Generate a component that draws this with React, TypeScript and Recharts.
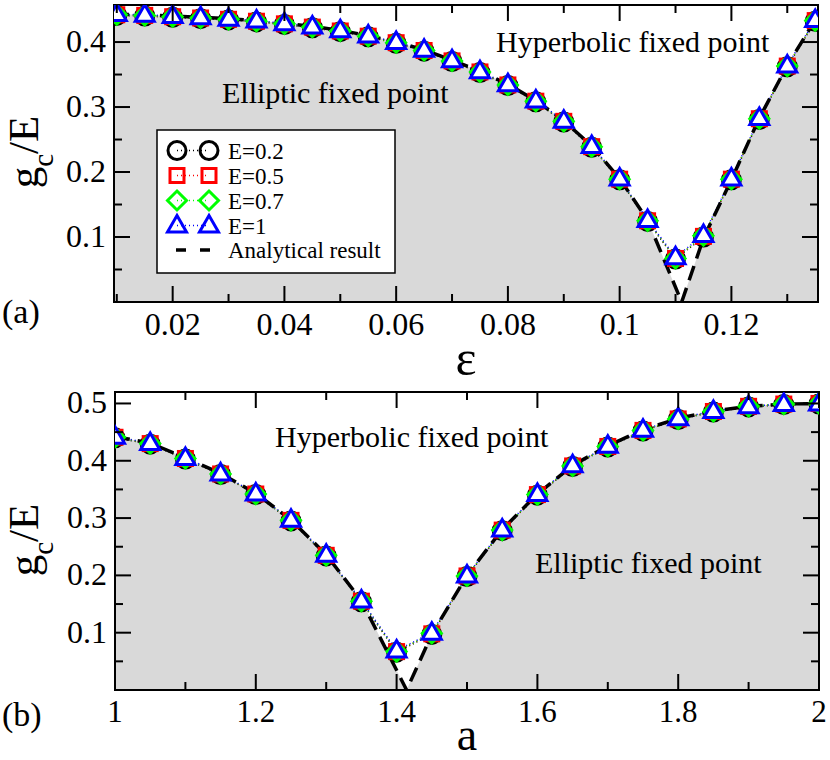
import React from 'react';
import { ComposedChart, Line, Area, XAxis, YAxis, ReferenceArea } from 'recharts';

// ---------- Panel (a): g_c/E versus epsilon ----------
const epsA = [0.01, 0.015, 0.02, 0.025, 0.03, 0.035, 0.04, 0.045, 0.05, 0.055, 0.06, 0.065, 0.07, 0.075, 0.08, 0.085, 0.09, 0.095, 0.1, 0.105, 0.11, 0.115, 0.12, 0.125, 0.13, 0.135];
const gA_E02 = [0.441, 0.44, 0.438, 0.436, 0.434, 0.431, 0.427, 0.422, 0.416, 0.408, 0.398, 0.386, 0.37, 0.353, 0.333, 0.308, 0.277, 0.238, 0.188, 0.124, 0.066, 0.1, 0.188, 0.281, 0.362, 0.432];
const gA_E05 = [0.442, 0.441, 0.439, 0.437, 0.435, 0.432, 0.428, 0.423, 0.417, 0.409, 0.399, 0.387, 0.371, 0.354, 0.334, 0.309, 0.278, 0.239, 0.189, 0.125, 0.067, 0.101, 0.189, 0.282, 0.363, 0.433];
const gA_E07 = [0.442, 0.441, 0.439, 0.437, 0.435, 0.432, 0.428, 0.423, 0.417, 0.409, 0.399, 0.387, 0.371, 0.354, 0.334, 0.309, 0.278, 0.239, 0.189, 0.125, 0.067, 0.102, 0.189, 0.282, 0.363, 0.433];
const gA_E1 = [0.443, 0.442, 0.44, 0.438, 0.436, 0.433, 0.429, 0.424, 0.418, 0.41, 0.4, 0.388, 0.372, 0.355, 0.335, 0.31, 0.279, 0.24, 0.19, 0.126, 0.069, 0.103, 0.19, 0.283, 0.364, 0.434];
const epsAnalyticA = [0.0095, 0.01, 0.015, 0.02, 0.025, 0.03, 0.035, 0.04, 0.045, 0.05, 0.055, 0.06, 0.065, 0.07, 0.075, 0.08, 0.085, 0.09, 0.095, 0.1, 0.105, 0.1111, 0.115, 0.12, 0.125, 0.13, 0.135, 0.1355];
const gAnalyticA = [0.444, 0.443, 0.442, 0.44, 0.438, 0.436, 0.433, 0.429, 0.424, 0.418, 0.41, 0.4, 0.388, 0.372, 0.355, 0.335, 0.31, 0.279, 0.24, 0.19, 0.126, 0, 0.098, 0.188, 0.283, 0.364, 0.434, 0.445];
const xTicksA = [0.01, 0.02, 0.03, 0.04, 0.05, 0.06, 0.07, 0.08, 0.09, 0.1, 0.11, 0.12, 0.13];
const xMajorA = [0.02, 0.04, 0.06, 0.08, 0.1, 0.12];
const yTicksA = [0.05, 0.1, 0.15, 0.2, 0.25, 0.3, 0.35, 0.4];
const yMajorA = [0.1, 0.2, 0.3, 0.4];
const xDomainA = [0.0095, 0.1355];
const yDomainA = [0, 0.457];

// ---------- Panel (b): g_c/E versus a ----------
const aB = [1, 1.05, 1.1, 1.15, 1.2, 1.25, 1.3, 1.35, 1.4, 1.45, 1.5, 1.55, 1.6, 1.65, 1.7, 1.75, 1.8, 1.85, 1.9, 1.95, 2];
const gB_E02 = [0.44, 0.429, 0.403, 0.376, 0.341, 0.295, 0.234, 0.154, 0.066, 0.097, 0.198, 0.278, 0.34, 0.39, 0.424, 0.452, 0.472, 0.485, 0.494, 0.498, 0.499];
const gB_E05 = [0.441, 0.43, 0.404, 0.377, 0.342, 0.296, 0.235, 0.155, 0.067, 0.098, 0.199, 0.279, 0.341, 0.391, 0.425, 0.453, 0.473, 0.486, 0.495, 0.499, 0.5];
const gB_E07 = [0.441, 0.43, 0.404, 0.377, 0.342, 0.296, 0.235, 0.155, 0.067, 0.099, 0.199, 0.279, 0.341, 0.391, 0.425, 0.453, 0.473, 0.486, 0.495, 0.499, 0.5];
const gB_E1 = [0.442, 0.431, 0.405, 0.378, 0.343, 0.297, 0.236, 0.156, 0.069, 0.1, 0.2, 0.28, 0.342, 0.392, 0.426, 0.454, 0.474, 0.487, 0.495, 0.499, 0.5];
const aAnalyticB = [1, 1.05, 1.1, 1.15, 1.2, 1.25, 1.3, 1.35, 1.4142, 1.45, 1.5, 1.55, 1.6, 1.65, 1.7, 1.75, 1.8, 1.85, 1.9, 1.95, 2];
const gAnalyticB = [0.442, 0.431, 0.405, 0.378, 0.343, 0.297, 0.236, 0.156, 0, 0.097, 0.2, 0.28, 0.342, 0.392, 0.426, 0.454, 0.474, 0.487, 0.495, 0.499, 0.5];
const xTicksB = [1, 1.1, 1.2, 1.3, 1.4, 1.5, 1.6, 1.7, 1.8, 1.9, 2];
const xMajorB = [1, 1.2, 1.4, 1.6, 1.8, 2];
const yTicksB = [0.05, 0.1, 0.15, 0.2, 0.25, 0.3, 0.35, 0.4, 0.45, 0.5];
const yMajorB = [0.1, 0.2, 0.3, 0.4, 0.5];
const xDomainB = [1, 2];
const yDomainB = [0, 0.52];

const seriesLabels = ['E=0.2', 'E=0.5', 'E=0.7', 'E=1'];
const analyticLabel = 'Analytical result';

const FONT = '"Liberation Serif", "Times New Roman", serif';
const GRAY = '#d9d9d9';

const zip = (xs: number[], ys: number[]) => xs.map((x, i) => ({ x, y: ys[i] }));
const isMajor = (v: number, majors: number[]) => majors.some((m) => Math.abs(m - v) < 1e-9);

type Kind = 'circle' | 'square' | 'diamond' | 'triangle';
const COLORS: Record<Kind, string> = { circle: '#000000', square: '#ff0000', diamond: '#00ff00', triangle: '#0000ff' };

function markerShape(kind: Kind, cx: number, cy: number, inLegend: boolean, key?: any) {
  const c = COLORS[kind];
  if (kind === 'circle') return <circle key={key} cx={cx} cy={cy} r={9} fill="none" stroke={c} strokeWidth={3} />;
  if (kind === 'square') return <rect key={key} x={cx - 7} y={cy - 7} width={14} height={14} fill={inLegend ? 'none' : c} stroke={c} strokeWidth={3} />;
  if (kind === 'diamond') return <polygon key={key} points={`${cx},${cy - 9.5} ${cx + 9.5},${cy} ${cx},${cy + 9.5} ${cx - 9.5},${cy}`} fill="none" stroke={c} strokeWidth={3} />;
  return <polygon key={key} points={`${cx},${cy - 10} ${cx + 9.5},${cy + 6.5} ${cx - 9.5},${cy + 6.5}`} fill={inLegend ? 'none' : '#ffffff'} stroke={c} strokeWidth={3} />;
}

const dotFor = (kind: Kind) => (p: any) => {
  if (p.cx == null || p.cy == null) return <g key={p.index} />;
  return markerShape(kind, p.cx, p.cy, false, p.index);
};

function XTick(props: any) {
  const { x, payload, top, bottom, majors, labelY, fontSize } = props;
  const v = payload.value;
  const major = isMajor(v, majors);
  const len = major ? 16 : 8;
  return (
    <g>
      <line x1={x} y1={bottom} x2={x} y2={bottom - len} stroke="#000" strokeWidth={2} />
      <line x1={x} y1={top} x2={x} y2={top + len} stroke="#000" strokeWidth={2} />
      {major && (
        <text x={x} y={labelY} textAnchor="middle" fontSize={fontSize} fontFamily={FONT} fill="#000">
          {String(v)}
        </text>
      )}
    </g>
  );
}

function YTick(props: any) {
  const { y, payload, left, right, majors, fontSize } = props;
  const v = payload.value;
  const major = isMajor(v, majors);
  const len = major ? 16 : 8;
  return (
    <g>
      <line x1={left} y1={y} x2={left + len} y2={y} stroke="#000" strokeWidth={2} />
      <line x1={right} y1={y} x2={right - len} y2={y} stroke="#000" strokeWidth={2} />
      {major && (
        <text x={left - 8} y={y + 10} textAnchor="end" fontSize={fontSize} fontFamily={FONT} fill="#000">
          {String(v)}
        </text>
      )}
    </g>
  );
}

type PanelProps = {
  xs: number[];
  series: number[][];
  axs: number[];
  ag: number[];
  xTicks: number[];
  xMajor: number[];
  yTicks: number[];
  yMajor: number[];
  xDomain: number[];
  yDomain: number[];
  left: number;
  right: number;
  top: number;
  bottom: number;
  xLabelY: number;
  xFont: number;
};

function Panel(p: PanelProps) {
  const W = 830;
  const H = 380;
  const kinds: Kind[] = ['circle', 'square', 'diamond', 'triangle'];
  const analytic = zip(p.axs, p.ag);
  const xAxisH = 40;
  return (
    <ComposedChart
      width={W}
      height={H}
      margin={{ top: p.top, right: W - p.right, left: 0, bottom: H - p.bottom - xAxisH }}
    >
      <XAxis
        type="number"
        dataKey="x"
        domain={p.xDomain}
        allowDataOverflow
        ticks={p.xTicks}
        interval={0}
        height={xAxisH}
        axisLine={false}
        tickLine={false}
        tick={(tp: any) => (
          <XTick {...tp} top={p.top} bottom={p.bottom} majors={p.xMajor} labelY={p.xLabelY} fontSize={p.xFont} />
        )}
      />
      <YAxis
        type="number"
        domain={p.yDomain}
        allowDataOverflow
        ticks={p.yTicks}
        interval={0}
        width={p.left}
        axisLine={false}
        tickLine={false}
        tick={(tp: any) => <YTick {...tp} left={p.left} right={p.right} majors={p.yMajor} fontSize={32} />}
      />
      <Area
        data={analytic}
        dataKey="y"
        type="linear"
        stroke="none"
        fill={GRAY}
        fillOpacity={1}
        baseValue={0}
        isAnimationActive={false}
        dot={false}
        activeDot={false}
      />
      {p.series.map((ys, i) => (
        <Line
          key={seriesLabels[i]}
          data={zip(p.xs, ys)}
          dataKey="y"
          name={seriesLabels[i]}
          type="linear"
          stroke={COLORS[kinds[i]]}
          strokeWidth={1.5}
          strokeDasharray="1 3"
          dot={dotFor(kinds[i])}
          activeDot={false}
          isAnimationActive={false}
        />
      ))}
      <Line
        data={analytic}
        dataKey="y"
        name={analyticLabel}
        type="linear"
        stroke="#000"
        strokeWidth={3.5}
        strokeDasharray="15 8"
        dot={false}
        activeDot={false}
        isAnimationActive={false}
      />
      <ReferenceArea
        x1={p.xDomain[0]}
        x2={p.xDomain[1]}
        y1={p.yDomain[0]}
        y2={p.yDomain[1]}
        fill="none"
        fillOpacity={0}
        stroke="#000"
        strokeWidth={2}
        ifOverflow="visible"
      />
    </ComposedChart>
  );
}

function YLabel({ x, cy }: { x: number; cy: number }) {
  return (
    <text
      transform={`translate(${x},${cy}) rotate(-90)`}
      textAnchor="middle"
      fontFamily={FONT}
      fontSize={43}
      fill="#000"
    >
      <tspan>g</tspan>
      <tspan fontSize={29} dy={15}>c</tspan>
      <tspan dy={-15}>/E</tspan>
    </text>
  );
}

function LegendBox() {
  const x0 = 157;
  const y0 = 130;
  const rows = [150.5, 175.5, 200.5, 225.5];
  const kinds: Kind[] = ['circle', 'square', 'diamond', 'triangle'];
  return (
    <g>
      <rect x={x0} y={y0} width={238} height={143} fill="#fff" stroke="#000" strokeWidth={1.5} />
      {rows.map((ry, i) => (
        <g key={i}>
          <line x1={177} y1={ry} x2={209} y2={ry} stroke={COLORS[kinds[i]]} strokeWidth={1.5} strokeDasharray="1 3" />
          {markerShape(kinds[i], 177, ry, true)}
          {markerShape(kinds[i], 209, ry, true)}
          <text x={228} y={ry + 8} fontFamily={FONT} fontSize={23} fill="#000">
            {seriesLabels[i]}
          </text>
        </g>
      ))}
      <line x1={176} y1={250} x2={210} y2={250} stroke="#000" strokeWidth={3.5} strokeDasharray="10 14" />
      <text x={228} y={258} fontFamily={FONT} fontSize={23} fill="#000">
        {analyticLabel}
      </text>
    </g>
  );
}

export default function App() {
  return (
    <div style={{ position: 'absolute', left: 0, top: 0, width: 830, height: 760, background: '#fff' }}>
      <div style={{ position: 'absolute', left: 0, top: 0 }}>
        <Panel
          xs={epsA}
          series={[gA_E02, gA_E05, gA_E07, gA_E1]}
          axs={epsAnalyticA}
          ag={gAnalyticA}
          xTicks={xTicksA}
          xMajor={xMajorA}
          yTicks={yTicksA}
          yMajor={yMajorA}
          xDomain={xDomainA}
          yDomain={yDomainA}
          left={114}
          right={818}
          top={5}
          bottom={302}
          xLabelY={335}
          xFont={32}
        />
      </div>
      <div style={{ position: 'absolute', left: 0, top: 380 }}>
        <Panel
          xs={aB}
          series={[gB_E02, gB_E05, gB_E07, gB_E1]}
          axs={aAnalyticB}
          ag={gAnalyticB}
          xTicks={xTicksB}
          xMajor={xMajorB}
          yTicks={yTicksB}
          yMajor={yMajorB}
          xDomain={xDomainB}
          yDomain={yDomainB}
          left={115}
          right={819}
          top={12}
          bottom={310}
          xLabelY={342}
          xFont={31}
        />
      </div>
      <svg
        width={830}
        height={760}
        style={{ position: 'absolute', left: 0, top: 0, pointerEvents: 'none' }}
      >
        <text x={496} y={52} fontFamily={FONT} fontSize={30} fill="#000">Hyperbolic fixed point</text>
        <text x={222} y={103} fontFamily={FONT} fontSize={30} fill="#000">Elliptic fixed point</text>
        <text x={275} y={447} fontFamily={FONT} fontSize={30} fill="#000">Hyperbolic fixed point</text>
        <text x={535} y={573} fontFamily={FONT} fontSize={30} fill="#000">Elliptic fixed point</text>
        <LegendBox />
        <text x={466} y={375} textAnchor="middle" fontFamily={FONT} fontSize={50} fill="#000">ε</text>
        <text x={467} y={750} textAnchor="middle" fontFamily={FONT} fontSize={46} fill="#000">a</text>
        <YLabel x={38} cy={152} />
        <YLabel x={38} cy={540} />
        <text x={2} y={323} fontFamily={FONT} fontSize={34} fill="#000">(a)</text>
        <text x={2} y={726} fontFamily={FONT} fontSize={34} fill="#000">(b)</text>
      </svg>
    </div>
  );
}
